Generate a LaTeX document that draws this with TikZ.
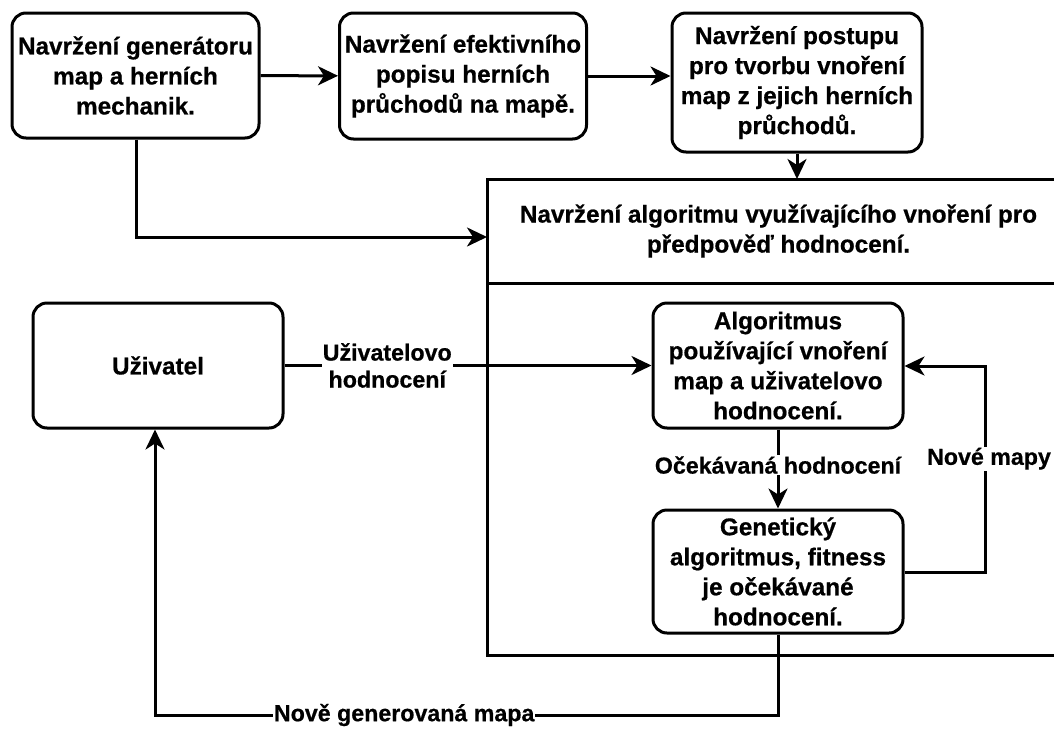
\documentclass[tikz,border=0pt]{standalone}
\usepackage{fontspec}
\setmainfont{Liberation Sans}[BoldFeatures={FakeBold=0.6}]
\usetikzlibrary{arrows.meta}
\begin{document}
\begin{tikzpicture}[x=1pt,y=-1pt,
  every node/.style={font=\bfseries\fontsize{24.3}{30}\selectfont, align=center, inner sep=0pt},
  box/.style={draw, line width=3pt, rounded corners=14pt, minimum width=#1},
  box/.default=247pt,
  frame/.style={draw, line width=3pt, rectangle, outer sep=0pt},
  link/.style={line width=3pt, -{Stealth[length=20pt,width=19pt,inset=6pt]}},
  lbl/.style={fill=white, inner sep=1pt, font=\bfseries\fontsize{23.2}{27}\selectfont}
]
\useasboundingbox (0,0) rectangle (1054,731);

% top row of design steps
\node[box, minimum height=125pt] (gen) at (135.5,75.5) {Navržení generátoru\\map a herních\\mechanik.};
\node[box, minimum height=126pt] (desc) at (463,76) {Navržení efektivního\\popisu herních\\průchodů na mapě.};
\node[box=250pt, minimum height=139pt] (emb) at (797,82.5) {Navržení postupu\\pro tvorbu vnoření\\map z jejich herních\\průchodů.};

% container: title part and body part
\node[frame, minimum width=583pt, minimum height=104pt] (design) at (778.5,231) {Navržení algoritmu využívajícího vnoření pro\\předpověď hodnocení.};
\node[frame, minimum width=583pt, minimum height=372pt, anchor=north] (body) at (design.south) {};

% inner boxes and user
\node[box=250pt, minimum height=125pt] (user) at (158,365.5) {Uživatel};
\node[box=250pt, minimum height=125pt] (alg) at (778,365.5) {Algoritmus\\používající vnoření\\map a uživatelovo\\hodnocení.};
\node[box=250pt, minimum height=123pt] (ga) at (778,571.5) {Genetický\\algoritmus, fitness\\je očekávané\\hodnocení.};

% connectors
\draw[link] (gen) -- (desc);
\draw[link] (desc.east) -- (emb.west |- desc.east);
\draw[link] (emb) -- (emb |- design.north);
\coordinate (g1) at (136,237);
\draw[link] (gen.south -| g1) -- (g1) -- (g1 -| design.west);

\draw[link] (user) -- node[lbl, pos=0.28] {Uživatelovo\\hodnocení} (alg);
\draw[link] (alg) -- node[lbl, pos=0.45] {Očekávaná hodnocení} (ga);

\coordinate (r1) at (985,572);
\coordinate (r2) at (985,366);
\draw[link] (ga.east |- r1) -- (r1) -- node[lbl, pos=0.55, xshift=4pt] {Nové mapy} (r2) -- (alg.east |- r2);

\coordinate (b1) at (778,715);
\coordinate (b2) at (155,715);
\draw[link] (ga) -- (b1) -- node[lbl, pos=0.6] {Nově generovaná mapa} (b2) -- (b2 |- user.south);
\end{tikzpicture}
\end{document}
